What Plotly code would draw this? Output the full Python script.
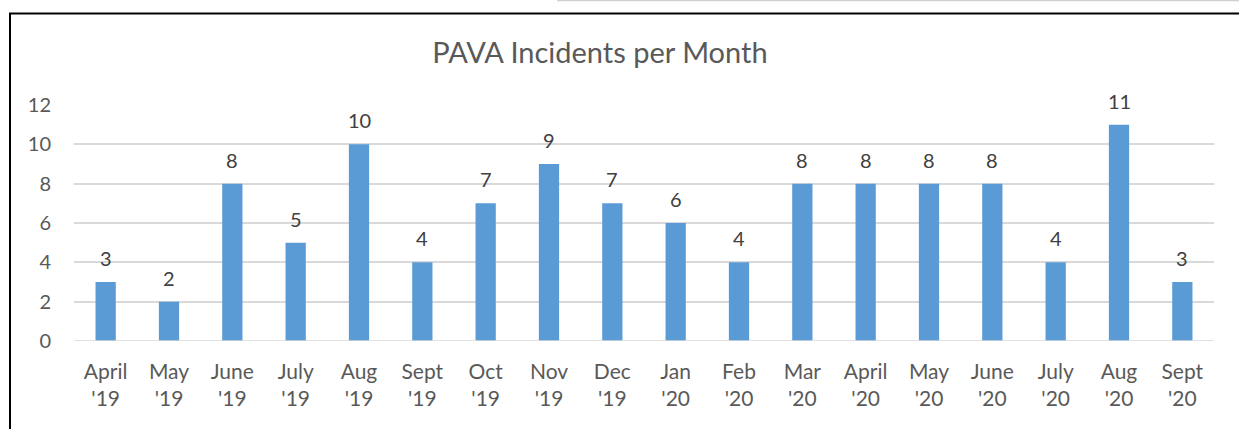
import plotly.graph_objects as go

months = ["April", "May", "June", "July", "Aug", "Sept", "Oct", "Nov", "Dec",
          "Jan", "Feb", "Mar", "April", "May", "June", "July", "Aug", "Sept"]
years = ["'19"] * 9 + ["'20"] * 9
incidents = [3, 2, 8, 5, 10, 4, 7, 9, 7, 6, 4, 8, 8, 8, 8, 4, 11, 3]
y_ticks = [0, 2, 4, 6, 8, 10, 12]

cats = [f"{m}<br>{y}" for m, y in zip(months, years)]
idx = list(range(len(cats)))

FONT = "Lato"
W, H = 1239, 429
L, R, T, B = 74, 25, 105, 88
pw, ph = W - L - R, H - T - B

def px(x):
    return (x - L) / pw

def py(y):
    return (H - B - y) / ph

fig = go.Figure()
fig.add_trace(go.Bar(
    x=idx, y=incidents, marker=dict(color="#5B9BD5", line=dict(width=0)),
    width=0.32, hoverinfo="skip",
))

for i, v in zip(idx, incidents):
    fig.add_annotation(x=i, y=v, text=str(v), showarrow=False, yanchor="bottom",
                       yshift=10, font=dict(family=FONT, size=20, color="#404040"))

fig.update_layout(
    width=W, height=H,
    margin=dict(l=L, r=R, t=T, b=B),
    paper_bgcolor="white", plot_bgcolor="white",
    showlegend=False,
    title=dict(text="PAVA Incidents per Month", x=px(626), xanchor="center",
               y=1 - 53 / H, yanchor="middle",
               font=dict(family=FONT, size=29, color="#595959")),
    xaxis=dict(tickmode="array", tickvals=idx, ticktext=cats, range=[-0.5, len(cats) - 0.5],
               showgrid=False, zeroline=False, showline=False, ticks="",
               ticklabelstandoff=16,
               tickfont=dict(family=FONT, size=21, color="#595959")),
    yaxis=dict(range=[0, 12], tickvals=y_ticks, showgrid=True, gridcolor="#D9D9D9",
               gridwidth=1.5, zeroline=False, showline=False, ticks="",
               ticklabelstandoff=22,
               tickfont=dict(family=FONT, size=20, color="#595959")),
    shapes=[
        dict(type="line", xref="paper", yref="paper", x0=px(9), x1=px(1239),
             y0=py(13.5), y1=py(13.5), line=dict(color="black", width=2)),
        dict(type="line", xref="paper", yref="paper", x0=px(10), x1=px(10),
             y0=py(13), y1=py(429), line=dict(color="black", width=2)),
        dict(type="line", xref="paper", yref="paper", x0=px(557), x1=px(1239),
             y0=py(0.5), y1=py(0.5), line=dict(color="#D0D0D0", width=1.5)),
        dict(type="line", xref="paper", yref="y", x0=0, x1=1, y0=0, y1=0,
             line=dict(color="#D9D9D9", width=1.5)),
    ],
)

fig.write_html("out.html", config={"displayModeBar": False},
               post_script="document.body.style.margin='0';document.body.style.overflow='hidden';")
